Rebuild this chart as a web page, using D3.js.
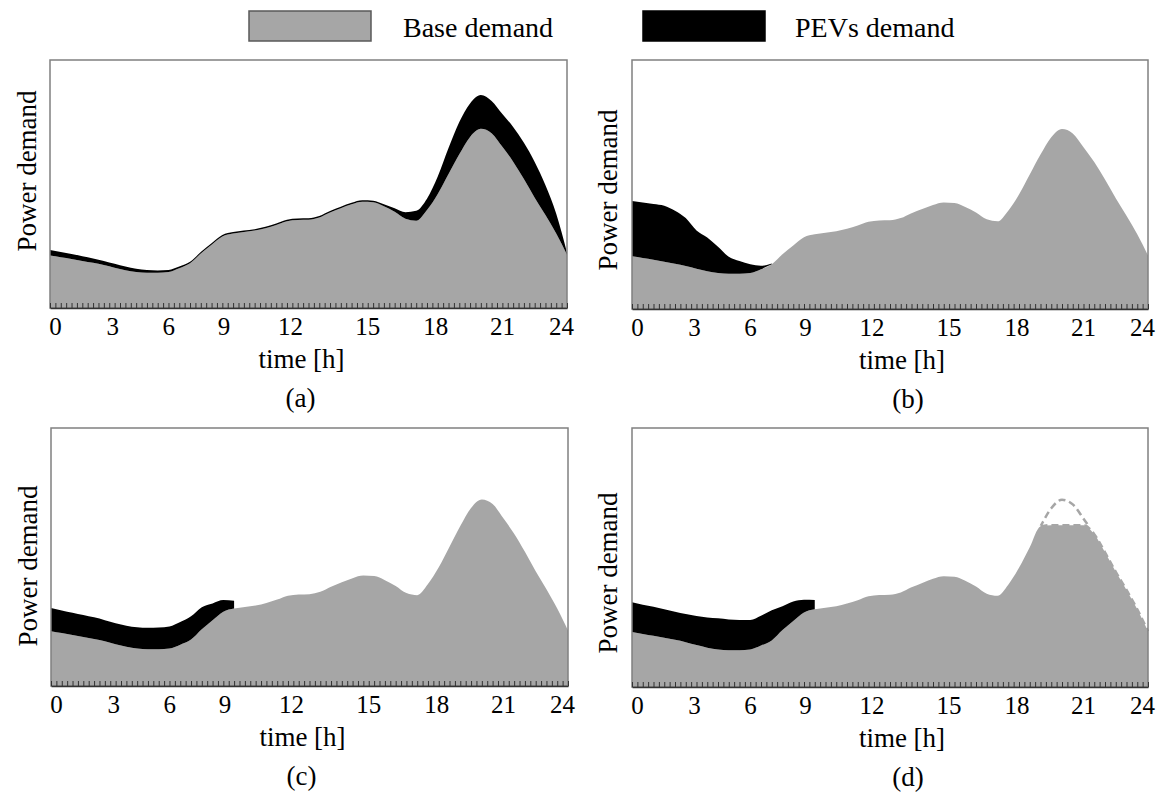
<!DOCTYPE html>
<html>
<head>
<meta charset="utf-8">
<script src="https://cdn.jsdelivr.net/npm/d3@7"></script>
<style>
  body { margin: 0; background: #fff; }
  text { font-family: "Liberation Serif", "Times New Roman", serif; fill: #000; }
  .minor line, .minor path { stroke: #333; }
  .minor path { stroke-width: 1.5; }
</style>
</head>
<body>
<div id="chart"></div>
<script>
//// data (demand in % of panel height, every half hour)
var hours = [0, 0.5, 1, 1.5, 2, 2.5, 3, 3.5, 4, 4.5, 5, 5.5, 6, 6.5, 7, 7.5, 8, 8.5,
  9, 9.5, 10, 10.5, 11, 11.5, 12, 12.5, 13, 13.5, 14, 14.5, 15, 15.5, 16, 16.5,
  17, 17.5, 18, 18.5, 19, 19.5, 20, 20.5, 21, 21.5, 22, 22.5, 23, 23.5, 24];

var baseDemand = [21.2, 20.5, 19.8, 19.0, 18.2, 17.3, 16.2, 15.2, 14.5, 14.2, 14.2, 14.5,
  16.0, 18.0, 22.0, 25.5, 28.8, 30.0, 30.6, 31.2, 32.2, 33.5, 35.0, 35.5, 35.6, 36.5,
  38.5, 40.2, 41.8, 42.8, 42.6, 41.0, 38.8, 36.0, 35.2, 39.5, 46.0, 54.0, 62.0, 69.0,
  72.3, 70.5, 65.0, 59.0, 52.0, 44.5, 37.5, 30.0, 21.5];

// (a) uncontrolled charging
var pevA = [2.2, 2.1, 2.0, 1.9, 1.8, 1.7, 1.6, 1.5, 1.3, 1.1, 0.9, 0.8, 0.7,
  0.6, 0.6, 0.6, 0.6, 0.6, 0.6, 0.6, 0.6, 0.6, 0.6, 0.6, 0.6, 0.6, 0.6, 0.6, 0.6, 0.6, 0.6,
  0.8, 1.4, 2.6, 4.0, 4.6, 7.0, 10.5, 13.0, 13.5, 13.6, 13.0, 13.2, 14.0, 14.6, 14.4, 12.0, 8.0, 0.8];

// (b) night charging
var pevB = [22.2, 22.3, 22.4, 22.5, 21.3, 19.2, 15.3, 13.5, 10.5, 6.8, 5.1, 3.5, 1.4, 0.3,
  0, 0, 0, 0, 0, 0, 0, 0, 0, 0, 0, 0, 0, 0, 0, 0, 0, 0, 0, 0, 0,
  0, 0, 0, 0, 0, 0, 0, 0, 0, 0, 0, 0, 0, 0];

// (c) valley filling
var pevC = [9.0, 8.8, 8.6, 8.5, 8.4, 8.2, 8.1, 8.2, 8.3, 8.4, 8.5, 8.6, 8.8, 9.0, 8.5, 6.5, 4.5, 3.0,
  0, 0, 0, 0, 0, 0, 0, 0, 0, 0, 0, 0, 0, 0, 0, 0, 0,
  0, 0, 0, 0, 0, 0, 0, 0, 0, 0, 0, 0, 0, 0];

// (d) valley filling + peak shaving
var pevD = [11.5, 11.3, 11.2, 11.0, 10.9, 10.9, 11.2, 11.6, 12.0, 11.9, 11.7, 11.4, 11.5, 11.6, 9.2, 7.5, 4.9, 3.6,
  0, 0, 0, 0, 0, 0, 0, 0, 0, 0, 0, 0, 0, 0, 0, 0, 0,
  0, 0, 0, 0, 0, 0, 0, 0, 0, 0, 0, 0, 0, 0];
var peakCapD = 62.5;

var tickHours = [0, 3, 6, 9, 12, 15, 18, 21, 24];
var tickLabels = ["0", "3", "6", "9", "12", "15", "18", "21", "24"];

//// layout
var gray = "#a6a6a6";
var labelNudge = [5, -2.5, -11, -20.5, -18.5, -6, -2.5, -0.5, -6];

var panels = [
  {id: "a", x: 50, y: 60, w: 517, h: 248, pev: pevA, cap: null, tdx: -7, cdx: -8, ylx: 36, yly: 171},
  {id: "b", x: 632, y: 60, w: 516, h: 249, pev: pevB, cap: null, tdx: 12, cdx: 18, ylx: 617, yly: 190},
  {id: "c", x: 51, y: 428, w: 517, h: 258, pev: pevC, cap: null, tdx: -7, cdx: -8, ylx: 37, yly: 566},
  {id: "d", x: 632, y: 428, w: 516, h: 259, pev: pevD, cap: peakCapD, tdx: 12, cdx: 18, ylx: 617, yly: 573}
];

var svg = d3.select("#chart").append("svg")
    .attr("width", 1161)
    .attr("height", 793);

//// legend
var legend = [
  {label: "Base demand", fill: gray, stroke: "#595959", x: 249, tx: 403},
  {label: "PEVs demand", fill: "#000", stroke: "#000", x: 643, tx: 795}
];
legend.forEach(function(l) {
  svg.append("rect")
    .attr("x", l.x).attr("y", 11)
    .attr("width", 122).attr("height", 30)
    .attr("fill", l.fill)
    .attr("stroke", l.stroke)
    .attr("stroke-width", 1.5);
  svg.append("text")
    .attr("x", l.tx).attr("y", 37)
    .style("font-size", "28px")
    .text(l.label);
});

//// panels
panels.forEach(drawPanel);

function drawPanel(p) {
  var g = svg.append("g")
      .attr("transform", "translate(" + p.x + "," + p.y + ")");

  var x = d3.scaleLinear().domain([0, 24]).range([0, p.w]);
  var y = d3.scaleLinear().domain([0, 100]).range([p.h, 0]);

  var rows = hours.map(function(h, i) {
    var b = p.cap ? Math.min(baseDemand[i], p.cap) : baseDemand[i];
    return {h: h, base: b, orig: baseDemand[i], pev: p.pev[i]};
  });

  // base demand
  var baseArea = d3.area()
      .x(function(d) { return x(d.h); })
      .y0(p.h)
      .y1(function(d) { return y(d.base); })
      .curve(d3.curveMonotoneX);
  g.append("path").datum(rows)
    .attr("d", baseArea)
    .attr("fill", gray);

  // PEVs demand on top
  var pevArea = d3.area()
      .defined(function(d) { return d.pev > 0; })
      .x(function(d) { return x(d.h); })
      .y0(function(d) { return y(d.base); })
      .y1(function(d) { return y(d.base + d.pev); })
      .curve(d3.curveMonotoneX);
  g.append("path").datum(rows)
    .attr("d", pevArea)
    .attr("fill", "#000");

  // shaved peak
  if (p.cap) {
    g.append("clipPath").attr("id", "clip-" + p.id)
      .append("rect")
        .attr("x", 0).attr("y", 0)
        .attr("width", p.w).attr("height", y(p.cap));

    var origLine = d3.line()
        .x(function(d) { return x(d.h); })
        .y(function(d) { return y(d.orig); })
        .curve(d3.curveMonotoneX);
    g.append("path")
      .datum(rows.filter(function(d) { return d.h >= 18.5 && d.h <= 21.5; }))
      .attr("d", origLine)
      .attr("clip-path", "url(#clip-" + p.id + ")")
      .attr("fill", "none")
      .attr("stroke", gray)
      .attr("stroke-width", 2.5)
      .attr("stroke-dasharray", "7,4");

    var shavedLine = d3.line()
        .x(function(d) { return x(d.h); })
        .y(function(d) { return y(d.base); })
        .curve(d3.curveMonotoneX);
    g.append("path")
      .datum(rows.filter(function(d) { return d.h >= 19; }))
      .attr("d", shavedLine)
      .attr("fill", "none")
      .attr("stroke", gray)
      .attr("stroke-width", 2.5)
      .attr("stroke-dasharray", "7,4");
  }

  // frame
  g.append("rect")
    .attr("width", p.w).attr("height", p.h)
    .attr("fill", "none")
    .attr("stroke", "#808080")
    .attr("stroke-width", 1.5);

  // minor ticks every 15 min
  g.append("g")
    .attr("class", "minor")
    .attr("transform", "translate(0," + p.h + ")")
    .call(d3.axisBottom(x)
      .tickValues(d3.range(0, 24.001, 0.25))
      .tickSize(-5)
      .tickSizeOuter(0)
      .tickFormat(""));

  // hour labels
  var lab = g.append("g")
    .attr("transform", "translate(0," + p.h + ")")
    .call(d3.axisBottom(x)
      .tickValues(tickHours)
      .tickSize(0)
      .tickPadding(9)
      .tickFormat(function(d, i) { return tickLabels[i]; }));
  lab.attr("font-family", null).attr("font-size", null);
  lab.select(".domain").remove();
  lab.selectAll("text")
    .attr("dx", function(d, i) { return labelNudge[i]; })
    .style("font-size", "25px");

  g.append("text")
    .attr("x", p.w / 2 + p.tdx)
    .attr("y", p.h + 60)
    .attr("text-anchor", "middle")
    .style("font-size", "27px")
    .text("time [h]");

  g.append("text")
    .attr("x", p.w / 2 + p.cdx)
    .attr("y", p.h + 99)
    .attr("text-anchor", "middle")
    .style("font-size", "27px")
    .text("(" + p.id + ")");

  svg.append("text")
    .attr("transform", "translate(" + p.ylx + "," + p.yly + ") rotate(-90)")
    .attr("text-anchor", "middle")
    .style("font-size", "27px")
    .text("Power demand");
}
</script>
</body>
</html>
